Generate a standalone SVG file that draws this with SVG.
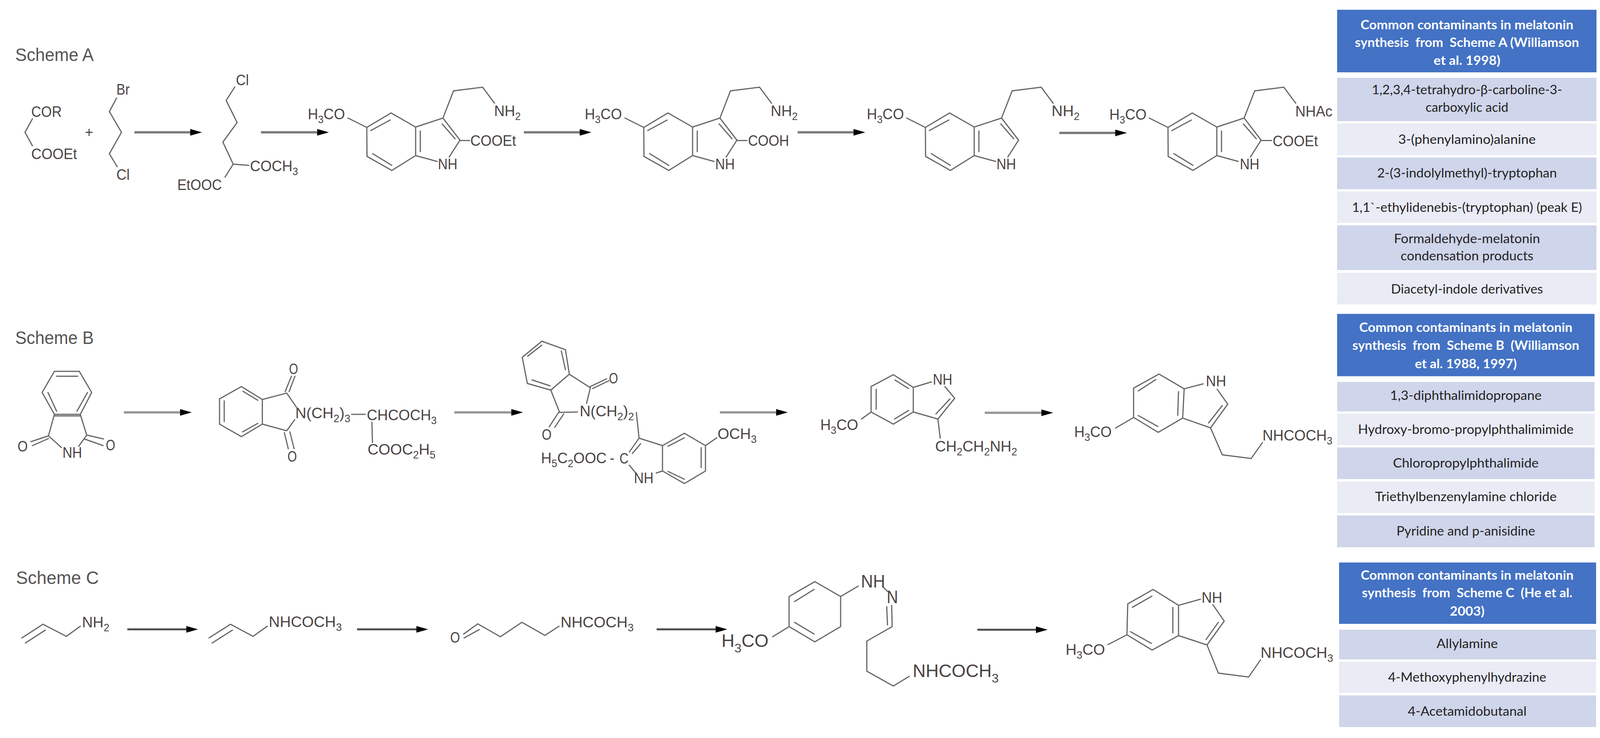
<svg xmlns="http://www.w3.org/2000/svg" xmlns:xlink="http://www.w3.org/1999/xlink" width="4113" height="1888" viewBox="0 0 4113 1888">
<style>
.bg{fill:#fff}
.b{fill:none;stroke:#666;stroke-width:3;stroke-linejoin:miter;stroke-linecap:round}
.t{font-family:"Liberation Sans",Arial,sans-serif;font-size:39px;fill:#4a4444}
.big{font-size:46px}
.s{font-size:27px}
.sb{font-size:32px}
.lab{font-family:"Liberation Sans",Arial,sans-serif;font-size:46px;fill:#555}
.h{fill:#4472c4}
.d{fill:#cfd5ea}
.e{fill:#e9ebf5}
.ht{font-family:Lato,"Open Sans",sans-serif;font-weight:700;font-size:33px;fill:#fff;text-anchor:middle;white-space:pre}
.rt{font-family:Lato,"Open Sans",sans-serif;font-size:33px;fill:#222;text-anchor:middle}
.a1{stroke:#7a7a7a;stroke-width:6;fill:none}
.a2{stroke:#999;stroke-width:6;fill:none}
.a3{stroke:#4d4d4d;stroke-width:5;fill:none}
</style>
<defs>
<marker id="ah" markerUnits="userSpaceOnUse" markerWidth="31" markerHeight="19" refX="0" refY="9.5" orient="auto"><path d="M0 1L30 9.5L0 18Z" fill="#000"/></marker>
<path id="indole" class="b" d="M939 326L1001 289L1064 325L1064 398L1003 436L939.5 400Z M949 334L999 307 M1076 335L1076 388 M954 393L1003 423 M1064 325L1134 302L1177.5 358.5 M1132 317L1165 355 M1177.5 358.5L1150 401.6 M1064 398L1119 413 M1134 302L1161 232.5L1235.5 223L1266 264 M891 302L939 326"/>
</defs>
<rect class="bg" width="4113" height="1888"/>

<g id="labels">
<text class="lab" x="39" y="156" textLength="201" lengthAdjust="spacingAndGlyphs">Scheme A</text>
<text class="lab" x="39" y="880" textLength="201" lengthAdjust="spacingAndGlyphs">Scheme B</text>
<text class="lab" x="41" y="1494" textLength="212" lengthAdjust="spacingAndGlyphs">Scheme C</text>
</g>

<g id="connectors">
<line class="a1" x1="344" y1="338.6" x2="487" y2="338.6" marker-end="url(#ah)"/>
<line class="a1" x1="668" y1="338.6" x2="812" y2="338.6" marker-end="url(#ah)"/>
<line class="a1" x1="1341" y1="338.6" x2="1484" y2="338.6" marker-end="url(#ah)"/>
<line class="a1" x1="2042" y1="338.6" x2="2185" y2="338.6" marker-end="url(#ah)"/>
<line class="a1" x1="2712" y1="340" x2="2855" y2="340" marker-end="url(#ah)"/>
<line class="a2" x1="317" y1="1055" x2="461" y2="1055" marker-end="url(#ah)"/>
<line class="a2" x1="1163" y1="1055" x2="1309" y2="1055" marker-end="url(#ah)"/>
<line class="a2" x1="1843" y1="1055" x2="1987" y2="1055" marker-end="url(#ah)"/>
<line class="a2" x1="2521" y1="1056" x2="2666" y2="1056" marker-end="url(#ah)"/>
<line class="a3" x1="326" y1="1610" x2="477" y2="1610" marker-end="url(#ah)"/>
<line class="a3" x1="914" y1="1610" x2="1066" y2="1610" marker-end="url(#ah)"/>
<line class="a3" x1="1681" y1="1610" x2="1832" y2="1610" marker-end="url(#ah)"/>
<line class="a3" x1="2502" y1="1611" x2="2652" y2="1611" marker-end="url(#ah)"/>
</g>

<g id="a-malonate">
<path class="b" d="M83 304L64 338.6L83 373"/>
<text class="t" x="80" y="299" textLength="78" lengthAdjust="spacingAndGlyphs">COR</text>
<text class="t" x="80" y="407" textLength="117" lengthAdjust="spacingAndGlyphs">COOEt</text>
</g>
<g id="a-plus"><text class="t" x="228" y="351" text-anchor="middle" style="font-size:36px">+</text></g>
<g id="a-bromochloropropane">
<path class="b" d="M298.5 250.7L280 285.5L311 338.6L280 393.3L300 426.5"/>
<text class="t" x="298" y="242" textLength="34" lengthAdjust="spacingAndGlyphs">Br</text>
<text class="t" x="298" y="460" textLength="34" lengthAdjust="spacingAndGlyphs">Cl</text>
</g>
<g id="a-intermediate">
<path class="b" d="M601 222.5L579 257L607 313.7L570.5 363.5L597 420L576 453 M597 420L637 423"/>
<text class="t" x="604" y="217.5" textLength="33" lengthAdjust="spacingAndGlyphs">Cl</text>
<text class="t" x="640" y="438" textLength="123" lengthAdjust="spacingAndGlyphs">COCH<tspan class="s" dy="10">3</tspan></text>
<text class="t" x="454" y="486" textLength="114" lengthAdjust="spacingAndGlyphs">EtOOC</text>
</g>
<g id="a-ester-amine">
<use href="#indole" xlink:href="#indole"/>
<path class="b" d="M1177 359.5L1202 359.5"/>
<text class="t" x="788" y="305" textLength="95" lengthAdjust="spacingAndGlyphs">H<tspan class="s" dy="10">3</tspan><tspan dy="-10">CO</tspan></text>
<text class="t" x="1121" y="433" textLength="50" lengthAdjust="spacingAndGlyphs">NH</text>
<text class="t" x="1204" y="373" textLength="117" lengthAdjust="spacingAndGlyphs">COOEt</text>
<text class="t" x="1265" y="297" textLength="68" lengthAdjust="spacingAndGlyphs">NH<tspan class="s" dy="10">2</tspan></text>
</g>
<g id="a-acid-amine">
<use href="#indole" xlink:href="#indole" x="709"/>
<path class="b" d="M1886 359.5L1912 359.5"/>
<text class="t" x="1497" y="305" textLength="95" lengthAdjust="spacingAndGlyphs">H<tspan class="s" dy="10">3</tspan><tspan dy="-10">CO</tspan></text>
<text class="t" x="1831" y="433" textLength="50" lengthAdjust="spacingAndGlyphs">NH</text>
<text class="t" x="1915" y="373" textLength="105" lengthAdjust="spacingAndGlyphs">COOH</text>
<text class="t" x="1973" y="297" textLength="69" lengthAdjust="spacingAndGlyphs">NH<tspan class="s" dy="10">2</tspan></text>
</g>
<g id="a-methoxytryptamine">
<use href="#indole" xlink:href="#indole" x="1430"/>
<text class="t" x="2219" y="305" textLength="95" lengthAdjust="spacingAndGlyphs">H<tspan class="s" dy="10">3</tspan><tspan dy="-10">CO</tspan></text>
<text class="t" x="2551" y="433" textLength="50" lengthAdjust="spacingAndGlyphs">NH</text>
<text class="t" x="2692" y="297" textLength="72" lengthAdjust="spacingAndGlyphs">NH<tspan class="s" dy="10">2</tspan></text>
</g>
<g id="a-product">
<use href="#indole" xlink:href="#indole" x="2051"/>
<path class="b" d="M3230 359.5L3255 359.5"/>
<text class="t" x="2840" y="306" textLength="95" lengthAdjust="spacingAndGlyphs">H<tspan class="s" dy="10">3</tspan><tspan dy="-10">CO</tspan></text>
<text class="t" x="3174" y="433" textLength="50" lengthAdjust="spacingAndGlyphs">NH</text>
<text class="t" x="3258" y="374" textLength="116" lengthAdjust="spacingAndGlyphs">COOEt</text>
<text class="t" x="3316" y="298" textLength="95" lengthAdjust="spacingAndGlyphs">NHAc</text>
</g>

<g id="b-phthalimide">
<path class="b" d="M139.3 950L203 950L234.7 1004L205.6 1060L139.3 1060L107.8 1004Z M145 962.5L199 962.5 M122.7 1004L145 1052 M224 1004L197 1052 M139.3 1064L205.6 1064 M139.3 1060L124 1115L157.5 1145 M205.6 1060L222 1113L201.5 1141.6 M124 1115L79 1130 M124 1122L83 1140 M222 1113L265 1123 M216 1123L264 1140"/>
<text class="t" x="45" y="1155" textLength="26" lengthAdjust="spacingAndGlyphs">O</text>
<text class="t" x="271" y="1152" textLength="24" lengthAdjust="spacingAndGlyphs">O</text>
<text class="t" x="160" y="1171" textLength="50" lengthAdjust="spacingAndGlyphs">NH</text>
</g>
<g id="b-ketoester">
<path class="b" d="M618 989L671.6 1022L671.6 1085L618 1117L562 1085L562 1020.5Z M622 1001L660 1024 M574 1025.5L574 1078.6 M660 1083L621 1105 M671.6 1022L734 1005.6L759 1042 M671.6 1085L734 1102L754.6 1073.6 M730 1002L746 962.5 M740 1002L755 962.5 M728 1107L738 1148 M742 1105L753 1148 M900 1060L935 1060 M952 1080L953.6 1132"/>
<text class="t" x="740" y="956.5" textLength="23" lengthAdjust="spacingAndGlyphs">O</text>
<text class="t" x="736" y="1181" textLength="24" lengthAdjust="spacingAndGlyphs">O</text>
<text class="t" x="756" y="1070" textLength="141" lengthAdjust="spacingAndGlyphs">N(CH<tspan class="s" dy="10">2</tspan><tspan dy="-10">)</tspan><tspan class="s" dy="10">3</tspan></text>
<text class="t" x="939" y="1075" textLength="179" lengthAdjust="spacingAndGlyphs">CHCOCH<tspan class="s" dy="10">3</tspan></text>
<text class="t" x="941" y="1163" textLength="174" lengthAdjust="spacingAndGlyphs">COOC<tspan class="s" dy="10">2</tspan><tspan dy="-10">H</tspan><tspan class="s" dy="10">5</tspan></text>
</g>
<g id="b-indole-ester">
<path class="b" d="M1387 873L1447.6 894.5L1457.5 957.5L1410 998L1350 981L1337 914Z M1387 883L1351 911 M1437 898L1447.6 946 M1362 972L1408 987 M1457.5 957.5L1511.4 992L1501.5 1032 M1410 998L1432.7 1055L1478 1054 M1511 989L1553 969 M1517 994L1559 974 M1430 1055L1406 1092 M1443 1059L1420 1093.5 M1629 1055L1636 1121 M1636 1121L1696 1140 M1696 1140L1752 1108.5L1806 1140L1806 1205L1752 1237L1696 1205Z M1710 1141.6L1752 1120 M1795 1145L1795 1196 M1710 1206L1752 1226 M1636 1121L1611 1156.5 M1640 1135L1619 1160 M1806 1140L1835 1120 M1611 1190L1627.5 1210 M1696 1205L1680 1210"/>
<text class="t" x="1559" y="981" textLength="23" lengthAdjust="spacingAndGlyphs">O</text>
<text class="t" x="1387" y="1125" textLength="25" lengthAdjust="spacingAndGlyphs">O</text>
<text class="t" x="1484" y="1065" textLength="139" lengthAdjust="spacingAndGlyphs">N(CH<tspan class="s" dy="10">2</tspan><tspan dy="-10">)</tspan><tspan class="s" dy="10">2</tspan></text>
<text class="t" x="1385" y="1185" textLength="168" lengthAdjust="spacingAndGlyphs">H<tspan class="s" dy="10">5</tspan><tspan dy="-10">C</tspan><tspan class="s" dy="10">2</tspan><tspan dy="-10">OOC</tspan></text>
<text class="t" x="1567" y="1184" text-anchor="middle" style="font-size:36px">-</text>
<text class="t" x="1586" y="1186" textLength="23" lengthAdjust="spacingAndGlyphs">C</text>
<text class="t" x="1837" y="1123" textLength="100" lengthAdjust="spacingAndGlyphs">OCH<tspan class="s" dy="10">3</tspan></text>
<text class="t" x="1623" y="1236" textLength="50" lengthAdjust="spacingAndGlyphs">NH</text>
</g>
<g id="b-methoxytryptamine">
<path class="b" d="M2287 958.5L2338 991L2338 1054L2287 1085L2230 1054L2230 989Z M2291 972L2326 994 M2243 996L2243 1047 M2326 1050L2290 1072 M2338 991L2384.6 977 M2419 989L2444 1019L2401 1072L2338 1054 M2432 1020.5L2396 1059 M2401 1072L2407 1121 M2205.5 1072L2230 1054"/>
<text class="t" x="2388" y="984" textLength="50" lengthAdjust="spacingAndGlyphs">NH</text>
<text class="t" x="2394" y="1155" textLength="210" lengthAdjust="spacingAndGlyphs">CH<tspan class="s" dy="10">2</tspan><tspan dy="-10">CH</tspan><tspan class="s" dy="10">2</tspan><tspan dy="-10">NH</tspan><tspan class="s" dy="10">2</tspan></text>
<text class="t" x="2100" y="1100" textLength="97" lengthAdjust="spacingAndGlyphs">H<tspan class="s" dy="10">3</tspan><tspan dy="-10">CO</tspan></text>
</g>
<g id="b-melatonin">
<path class="b" d="M2967 957L3031.5 994.6L3027.6 1069.6L2965 1106L2902 1068L2902 993Z M2959 971L2914 1000 M3017 1002L3015 1062.5 M2914 1063L2964 1091 M3031.5 994.6L3080 982 M3116 996L3143 1034L3099 1094.6L3027.6 1069.6 M3129 1037.5L3094 1082 M3099 1094.6L3129 1163.6L3203 1173L3232 1132 M2856 1095L2902 1068"/>
<text class="t" x="3087" y="987.5" textLength="52" lengthAdjust="spacingAndGlyphs">NH</text>
<text class="t" x="3232" y="1127" textLength="179" lengthAdjust="spacingAndGlyphs">NHCOCH<tspan class="s" dy="10">3</tspan></text>
<text class="t" x="2750" y="1118" textLength="96" lengthAdjust="spacingAndGlyphs">H<tspan class="s" dy="10">3</tspan><tspan dy="-10">CO</tspan></text>
</g>

<g id="c-allylamine">
<path class="b" d="M56 1632L110 1597L170 1628L205.6 1602 M65 1645L116 1612"/>
<text class="t" x="210" y="1605" textLength="70" lengthAdjust="spacingAndGlyphs">NH<tspan class="s" dy="10">2</tspan></text>
</g>
<g id="c-acetamide">
<path class="b" d="M535 1632L590 1597L648 1628L684 1602 M543 1645L595 1612"/>
<text class="t" x="688" y="1604" textLength="187" lengthAdjust="spacingAndGlyphs">NHCOCH<tspan class="s" dy="10">3</tspan></text>
</g>
<g id="c-acetamidobutanal">
<path class="b" d="M1187 1622L1223 1596L1281 1629L1336 1592L1395 1625.5L1431 1602 M1188 1632L1227 1610.6"/>
<text class="t" x="1152.6" y="1644" textLength="25" lengthAdjust="spacingAndGlyphs">O</text>
<text class="t" x="1435" y="1605" textLength="187" lengthAdjust="spacingAndGlyphs">NHCOCH<tspan class="s" dy="10">3</tspan></text>
</g>
<g id="c-hydrazone">
<path class="b" d="M2086 1488L2152 1526L2152 1603L2086 1642L2020 1603L2020 1526Z M2034 1539L2084 1508 M2034 1592L2084 1622 M2152 1526L2197 1499.5 M2262 1503L2272 1513 M2282.6 1549L2284 1603 M2270 1552L2272 1599 M2284 1603L2219 1640L2219 1717L2287 1755L2328 1730 M1978 1629L2020 1603"/>
<text class="t big" x="2204" y="1503" textLength="62" lengthAdjust="spacingAndGlyphs">NH</text>
<text class="t big" x="2270" y="1543" textLength="29" lengthAdjust="spacingAndGlyphs">N</text>
<text class="t big" x="2336.5" y="1732" textLength="220" lengthAdjust="spacingAndGlyphs">NHCOCH<tspan class="sb" dy="14">3</tspan></text>
<text class="t big" x="1847" y="1655" textLength="120.5" lengthAdjust="spacingAndGlyphs">H<tspan class="sb" dy="14">3</tspan><tspan dy="-14">CO</tspan></text>
</g>
<g id="c-melatonin">
<path class="b" d="M2952 1508L3017 1548.6L3017 1626L2949.4 1663L2885 1624L2887 1545Z M2899 1553.6L2949 1525 M3002.5 1554L3002.5 1619 M2894 1616L2947.5 1646 M3017 1548.6L3073 1533 M3105 1547L3134 1589L3090 1650L3017 1626 M3119 1592L3087.5 1636 M3090 1650L3119 1722L3196.5 1732L3227 1688 M2836.5 1649L2885 1624"/>
<text class="t" x="3076" y="1542" textLength="53" lengthAdjust="spacingAndGlyphs">NH</text>
<text class="t" x="3227" y="1683" textLength="186" lengthAdjust="spacingAndGlyphs">NHCOCH<tspan class="s" dy="10">3</tspan></text>
<text class="t" x="2728" y="1675" textLength="101" lengthAdjust="spacingAndGlyphs">H<tspan class="s" dy="10">3</tspan><tspan dy="-10">CO</tspan></text>
</g>

<g id="table-a">
<rect class="h" x="3423" y="25" width="664" height="160"/>
<text class="ht" x="3755.5" y="75" textLength="545" lengthAdjust="spacingAndGlyphs">Common contaminants in melatonin</text>
<text class="ht" x="3755.5" y="120" textLength="574" lengthAdjust="spacingAndGlyphs">synthesis  from  Scheme A (Williamson</text>
<text class="ht" x="3755.5" y="166" textLength="171" lengthAdjust="spacingAndGlyphs">et al. 1998)</text>
<rect class="d" x="3423" y="199" width="664" height="111"/>
<text class="rt" x="3755.5" y="241" textLength="487" lengthAdjust="spacingAndGlyphs">1,2,3,4-tetrahydro-β-carboline-3-</text>
<text class="rt" x="3755.5" y="286" textLength="212" lengthAdjust="spacingAndGlyphs">carboxylic acid</text>
<rect class="e" x="3423" y="316" width="664" height="81"/>
<text class="rt" x="3755.5" y="368" textLength="352" lengthAdjust="spacingAndGlyphs">3-(phenylamino)alanine</text>
<rect class="d" x="3423" y="403" width="664" height="81"/>
<text class="rt" x="3755.5" y="454" textLength="460" lengthAdjust="spacingAndGlyphs">2-(3-indolylmethyl)-tryptophan</text>
<rect class="e" x="3423" y="490" width="664" height="80"/>
<text class="rt" x="3755.5" y="542" textLength="589" lengthAdjust="spacingAndGlyphs">1,1`-ethylidenebis-(tryptophan) (peak E)</text>
<rect class="d" x="3423" y="576.5" width="664" height="114.5"/>
<text class="rt" x="3755.5" y="622" textLength="374" lengthAdjust="spacingAndGlyphs">Formaldehyde-melatonin</text>
<text class="rt" x="3755.5" y="666" textLength="340" lengthAdjust="spacingAndGlyphs">condensation products</text>
<rect class="e" x="3423" y="698" width="664" height="81"/>
<text class="rt" x="3755.5" y="751" textLength="389" lengthAdjust="spacingAndGlyphs">Diacetyl-indole derivatives</text>
</g>

<g id="table-b">
<rect class="h" x="3423" y="803" width="659" height="159.5"/>
<text class="ht" x="3752.5" y="849" textLength="546" lengthAdjust="spacingAndGlyphs">Common contaminants in melatonin</text>
<text class="ht" x="3752.5" y="895" textLength="581" lengthAdjust="spacingAndGlyphs">synthesis  from  Scheme B  (Williamson</text>
<text class="ht" x="3752.5" y="942" textLength="261" lengthAdjust="spacingAndGlyphs">et al. 1988, 1997)</text>
<rect class="d" x="3423" y="977" width="659" height="75.5"/>
<text class="rt" x="3752.5" y="1023" textLength="388" lengthAdjust="spacingAndGlyphs">1,3-diphthalimidopropane</text>
<rect class="e" x="3423" y="1058" width="659" height="80.6"/>
<text class="rt" x="3752.5" y="1110" textLength="552" lengthAdjust="spacingAndGlyphs">Hydroxy-bromo-propylphthalimimide</text>
<rect class="d" x="3423" y="1144.6" width="659" height="81"/>
<text class="rt" x="3752.5" y="1196" textLength="373" lengthAdjust="spacingAndGlyphs">Chloropropylphthalimide</text>
<rect class="e" x="3423" y="1232" width="659" height="80.5"/>
<text class="rt" x="3752.5" y="1282" textLength="465" lengthAdjust="spacingAndGlyphs">Triethylbenzenylamine chloride</text>
<rect class="d" x="3423" y="1318.6" width="659" height="81.4"/>
<text class="rt" x="3752.5" y="1370" textLength="355" lengthAdjust="spacingAndGlyphs">Pyridine and p-anisidine</text>
</g>

<g id="table-c">
<rect class="h" x="3428" y="1439" width="658" height="157"/>
<text class="ht" x="3756" y="1483" textLength="545" lengthAdjust="spacingAndGlyphs">Common contaminants in melatonin</text>
<text class="ht" x="3756" y="1528" textLength="539" lengthAdjust="spacingAndGlyphs">synthesis  from  Scheme C  (He et al.</text>
<text class="ht" x="3756" y="1575" textLength="89" lengthAdjust="spacingAndGlyphs">2003)</text>
<rect class="d" x="3428" y="1611" width="658" height="76"/>
<text class="rt" x="3756" y="1658" textLength="157" lengthAdjust="spacingAndGlyphs">Allylamine</text>
<rect class="e" x="3428" y="1693" width="658" height="79.5"/>
<text class="rt" x="3756" y="1744" textLength="405" lengthAdjust="spacingAndGlyphs">4-Methoxyphenylhydrazine</text>
<rect class="d" x="3428" y="1779" width="658" height="81"/>
<text class="rt" x="3756" y="1831" textLength="304" lengthAdjust="spacingAndGlyphs">4-Acetamidobutanal</text>
</g>
</svg>
